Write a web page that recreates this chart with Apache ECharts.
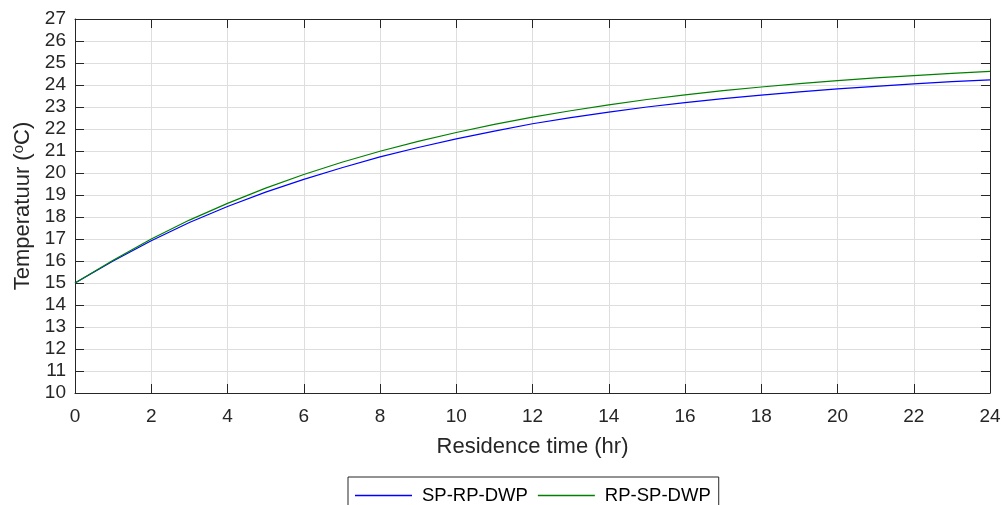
<!DOCTYPE html>
<html>
<head>
<meta charset="utf-8">
<script src="https://cdn.jsdelivr.net/npm/echarts@6/dist/echarts.min.js"></script>
<style>html,body{margin:0;padding:0;background:#fff}#c{width:1007px;height:505px}</style>
</head>
<body>
<div id="c"></div>
<script>
const hours = [0,1,2,3,4,5,6,7,8,9,10,11,12,13,14,15,16,17,18,19,20,21,22,23,24];
const spRpDwp = [15.00,16.00,16.92,17.75,18.48,19.13,19.71,20.24,20.73,21.16,21.55,21.90,22.24,22.52,22.77,23.00,23.20,23.38,23.54,23.69,23.82,23.94,24.05,24.15,24.23];
const rpSpDwp = [15.00,16.03,17.00,17.86,18.62,19.31,19.93,20.49,20.99,21.44,21.84,22.21,22.54,22.83,23.10,23.34,23.55,23.74,23.91,24.06,24.20,24.32,24.43,24.53,24.62];
const xTicksMin = 0, xTicksMax = 24, xStep = 2;
const yTicksMin = 10, yTicksMax = 27, yStep = 1;

const axisCol = '#262626';
const gridCol = '#dedede';
const blue = '#0000ff', green = '#008000';
const font = 'Liberation Sans, Arial, Helvetica, sans-serif';

const chart = echarts.init(document.getElementById('c'), null, {renderer: 'canvas'});
chart.setOption({
  animation: false,
  backgroundColor: '#fff',
  grid: {left: 75, top: 19, right: 17, bottom: 112, containLabel: false},
  legend: {
    data: [
      {name: 'SP-RP-DWP', itemStyle: {color: blue, borderWidth: 0}},
      {name: 'RP-SP-DWP', itemStyle: {color: green, borderWidth: 0}}
    ],
    left: 348, top: 477,
    orient: 'horizontal',
    icon: 'rect',
    itemWidth: 57, itemHeight: 1.5,
    itemGap: 10,
    padding: [9, 8, 30, 7],
    borderColor: '#262626', borderWidth: 1,
    backgroundColor: '#fff',
    textStyle: {fontFamily: font, fontSize: 18.5, color: '#000', padding: [0, 0, 0, 5]}
  },
  xAxis: [{
    type: 'value', min: xTicksMin, max: xTicksMax, interval: xStep,
    name: 'Residence time (hr)', nameLocation: 'middle', nameGap: 43,
    nameTextStyle: {fontFamily: font, fontSize: 22, color: axisCol},
    axisLine: {show: true, onZero: false, lineStyle: {color: axisCol, width: 1}},
    axisTick: {show: true, inside: true, length: 9, lineStyle: {color: axisCol}},
    axisLabel: {fontFamily: font, fontSize: 19, color: axisCol, margin: 14},
    splitLine: {show: true, lineStyle: {color: gridCol, width: 1}}
  }, {
    type: 'value', position: 'top', min: xTicksMin, max: xTicksMax, interval: xStep,
    axisLine: {show: true, onZero: false, lineStyle: {color: axisCol, width: 1}},
    axisTick: {show: true, inside: true, length: 9, lineStyle: {color: axisCol}},
    axisLabel: {show: false}, splitLine: {show: false}
  }],
  yAxis: [{
    type: 'value', min: yTicksMin, max: yTicksMax, interval: yStep,
    name: '{a|Temperatuur (}{s|o}{a|C)}', nameLocation: 'middle', nameGap: 38, nameRotate: 90,
    nameTextStyle: {
      fontFamily: font, fontSize: 22, color: axisCol,
      rich: {
        a: {fontFamily: font, fontSize: 22, color: axisCol, lineHeight: 24},
        s: {fontFamily: font, fontSize: 15, color: axisCol, verticalAlign: 'top', lineHeight: 15}
      }
    },
    axisLine: {show: true, onZero: false, lineStyle: {color: axisCol, width: 1}},
    axisTick: {show: true, inside: true, length: 9, lineStyle: {color: axisCol}},
    axisLabel: {fontFamily: font, fontSize: 19, color: axisCol, margin: 9},
    splitLine: {show: true, lineStyle: {color: gridCol, width: 1}}
  }, {
    type: 'value', position: 'right', min: yTicksMin, max: yTicksMax, interval: yStep,
    axisLine: {show: true, onZero: false, lineStyle: {color: axisCol, width: 1}},
    axisTick: {show: true, inside: true, length: 9, lineStyle: {color: axisCol}},
    axisLabel: {show: false}, splitLine: {show: false}
  }],
  series: [{
    name: 'SP-RP-DWP', type: 'line', smooth: false, showSymbol: false,
    data: hours.map((h, i) => [h, spRpDwp[i]]),
    lineStyle: {color: blue, width: 1.2}, itemStyle: {color: blue}
  }, {
    name: 'RP-SP-DWP', type: 'line', smooth: false, showSymbol: false,
    data: hours.map((h, i) => [h, rpSpDwp[i]]),
    lineStyle: {color: green, width: 1.2}, itemStyle: {color: green}
  }]
});
</script>
</body>
</html>
